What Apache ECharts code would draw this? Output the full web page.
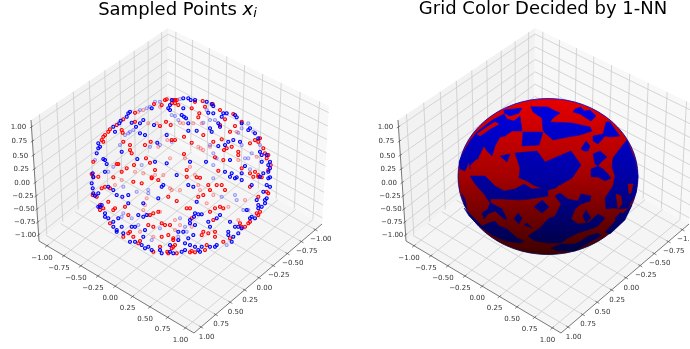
<!DOCTYPE html>
<html><head><meta charset="utf-8">
<script src="https://cdn.jsdelivr.net/npm/echarts@6/dist/echarts.min.js"></script>
<style>html,body{margin:0;padding:0;background:#fff}#c{width:690px;height:349px;filter:blur(0.4px)}</style>
</head><body><div id="c"></div>
<script>
const tickValues=[-1,-0.75,-0.5,-0.25,0,0.25,0.5,0.75,1];
const tickLabels=['−1.00','−0.75','−0.50','−0.25','0.00','0.25','0.50','0.75','1.00'];
const titles=['Sampled Points {m|x}{s|i}','Grid Color Decided by 1-NN'];
const panelOffsets=[0,367];
const boxCorners={back:[167,138],left:[39,241],front:[194,333],right:[322,224],backTop:[168,28],leftTop:[31,120],rightTop:[329,106]};
const sphereCentre=[548,176.5], sphereRadii=[90,78];

const blueStrong=[[92.7,173.3],[93.3,177.3],[98.3,148.3],[96.7,153.3],[103.3,159],[105,160],[106.7,164],[105,171.7],[115,131.7],[120.7,120.7],[128.3,113.3],[131.7,122.7],[143.3,120],[136,126.7],[140,123.3],[145,135],[140,133.3],[154,125],[155,161.7],[166.7,163.3],[157.3,142.7],[166.7,135],[137.3,159],[121.7,151.7],[130,111.7],[151.7,108.3],[168.3,108.3],[170,110],[170,105],
[183.3,98.3],[190.7,100],[195,100],[211.7,104],[213.3,106],[183.3,108.3],[184,116.7],[186,118.3],[188.3,123.3],[181.7,115],[208.3,112.7],[213.3,113.3],[223.3,113.3],[221.7,116.7],[235,115],[236.7,117.3],[218.3,123.3],[220,126.7],[210,128.3],[211.7,131.7],[196.7,130.7],[188.3,130.7],[241.7,123.3],[255,133.3],[248.3,130],[233.3,140],[240,141.7],[228.3,141.7],[218.3,146],[225,145],[260,151.7],[261.7,155],[266.7,155],[261.7,161.7],[268.3,165],[270,168.3],[190,161.7],[206,161.7],[230,160],[245,166],[236.7,177.3],[225,171.7],[231.7,173.3],[241.7,173.3],[270,177.3],[263.3,173.3],[176.7,175],
[92.7,188.3],[93.3,193.3],[95,195.7],[101.7,205],[105,213.3],[108.3,218.3],[113.3,221.7],[118.3,218.3],[113.3,226.7],[116.7,230],[121.7,226.7],[123.3,233.3],[131.7,226.7],[135,226.7],[138.3,215],[143.3,216.7],[143.3,203.3],[128.3,195],[128.3,203.3],[122.3,196.7],[116.7,195],[113.3,190],[108.3,186.7],[163.3,185],[161.7,186.7],[158.3,198.3],[145,230],[143.3,236.7],[135,241.7],[141.7,245],[148.3,246.7],[151.7,250],[160,250],[170,245],[170,251.7],[178.3,231.7],[178.3,240],[98.3,193.3],[100,206.7],[146.7,215],
[188.3,185],[193.3,186.7],[196.7,201.7],[195,213.3],[198.3,214.3],[201.7,214.3],[194,216.7],[190,220],[190,223.3],[195,225],[208.3,221.7],[210,226.7],[216.7,218.3],[220,215],[230,221.7],[235,226.7],[241.7,228.3],[256.7,200],[258.3,205],[265,200],[266.7,198.3],[258.3,208.3],[266.7,185],[263.3,191.7],[251.7,185],[255,218.3],[251.7,216.7],[238.3,226.7],[228.3,231.7],[233.3,236.7],[228.3,235],[183.3,231.7],[188.3,238.3],[193.3,235],[185,243.3],[190,245],[195,246.7],[201.7,246.7],[210,246.7],[215,246.7],[173.3,253.3],[181.7,251.7],[200,251.7],[230,176.7],[235,178.3],[241.7,180],[260,176.7],[268.3,178.3],[231.7,241.7],[246.7,210]];
const blueRim=[[98.3,143.3],[100,146.7],[113.3,126.7],[119.3,123.3],[126.7,116.7],[171.7,100],[188.3,98.3],[206.7,101.7],[226.7,113.3],[250,128.3],[258.3,138.3],[270,161.7],[268.3,171.7],[91.7,183.3],[98.3,206.7],[105,216.7],[116.7,231.7],[130,241.7],[145,248.3],[161.7,253.3],[185,250],[198.3,250],[216.7,245],[238.3,233.3],[250,218.3],[261.7,206.7],[265,203.3],[270,186.7]];
const redStrong=[[93.3,161.7],[91.7,174],[103.3,141.7],[108.3,131.7],[116.7,125],[121.7,130],[122.7,132.7],[103.3,136.7],[123.3,141.7],[130,145],[130,150],[131.7,153.3],[145,145],[150.7,141.7],[160,126],[166,121.7],[170.7,125],[146,158.3],[150,162.7],[134,165],[126.7,168.3],[121.7,171.7],[116.7,164],[118.3,164],[135,121.7],[161.7,105],[165,100],[173.3,100],[155,170],[151.7,177.3],[171.7,140],[113.3,177.3],
[171.7,103.3],[175,103.3],[178.3,105],[195,101.7],[202.7,101],[212.7,104],[199.3,113.3],[198.3,117.3],[205,106.7],[191.7,108.3],[220,125],[225,119.3],[230,131.7],[235,126],[184,136.7],[191.7,142.7],[184,154],[175,140],[213.3,141.7],[221.7,139.3],[231.7,146.7],[226.7,148.3],[224,150],[238.3,151.7],[238.3,155],[250,143.3],[255,140],[258.3,141.7],[260,138.3],[265,153.3],[266.7,158.3],[255,171.7],[258.3,175],[261.7,177.3],[268.3,170],[186.7,170],[196.7,177.3],[215,157.3],[223.3,160],[218.3,170.7],[203.3,135],[250,173.3],[241.7,168.3],
[93.3,176.7],[98.3,176.7],[101.7,188.3],[105,186.7],[96.7,196.7],[100,205],[103.3,208.3],[108.3,201.7],[113.3,210],[115,208.3],[125,206.7],[148.3,225],[153.3,226.7],[150,215],[133.3,181.7],[141.7,183.3],[151.7,178.3],[158.3,180],[168.3,196.7],[161.7,223.3],[165,225],[170,225],[168.3,235],[161.7,236.7],[173.3,238.3],[130,231.7],[128.3,233.3],[133.3,236.7],[140,241],[173.3,246.7],[167.3,251.7],[160,246.7],[128.3,215],[158.3,211.7],[153.3,213.3],[110,188.3],
[200,177.7],[208.3,185],[216.7,185],[221.7,185],[225,190],[198.3,196.7],[203.3,195],[210,190],[176.7,201],[186.7,208.3],[190,208.3],[215,208.3],[220,206.7],[223.3,208.3],[210,211.7],[213.3,220],[203.3,231.7],[201.7,235],[191.7,218.3],[173.3,240],[175,245],[191.7,251],[195,252.3],[206.7,245],[215,231.7],[240,223.3],[241.7,226.7],[248.3,223.3],[250,221.7],[258.3,215],[260,211.7],[250,186.7],[258.3,196.7],[266.7,191.7],[258.3,176.7],[208.3,233.3],[215,236.7],[186.7,176.7],[253.3,176.7]];
const redRim=[[101.7,140],[105,135],[110,129.3],[123.3,119.3],[135,112.7],[154,104],[166.7,99.3],[175,100],[176.7,100],[220,110],[233.3,114],[241.7,121.7],[263.3,148.3],[268.3,155],[270.7,165],[92.7,195],[100,210],[110,223.3],[123.3,236.7],[138.3,243.3],[153.3,251.7],[168.3,253.3],[171.7,248.3],[176.7,253.3],[190,252.3],[205,250],[223.3,241.7],[230,238.3],[245,226.7],[256.7,213.3],[268.3,193.3]];
const blueFaint=[[155,101.7],[150,106.7],[140,110],[125,135],[128.3,133.3],[130,131.7],[133.3,130],[120,145],[108.3,171.7],[113.3,166.7],[160,145],[171.7,141.7],[95,160],[141.7,165],[150,146.7],[146.7,108.3],[160,101.7],
[171.7,115],[175,116],[178.3,120],[206.7,110],[210,120],[215,120],[203.3,122.7],[241.7,128.3],[248.3,123.3],[238.3,132.7],[241.7,145],[213.3,153.3],[213.3,165],[245,158.3],[248.3,158.3],[251.7,153.3],[180,99],[210,145],[216.7,158.3],[253.3,131.7],[260,145],[250,169.3],
[123.3,186.7],[136.7,191.7],[148.3,190],[148.3,193.3],[123.3,213.3],[138.3,225],[121.7,216.7],[151.7,240],[131.7,218.3],[160,228.3],
[235,195],[236.7,200],[221.7,196.7],[248.3,210],[243.3,210],[185,226.7],[186.7,231.7],[180,218.3],[226.7,245],[213.3,178.3],[178.3,236.7]];
const redFaint=[[138.3,111.7],[143.3,110],[160,106.7],[167.3,140],[155,175],[156.7,123.3],[148.3,123.3],[135,171.7],[143.3,173.3],[163.3,175],[170,158.3],[158.3,146.7],
[180,122.7],[183.3,123.3],[193.3,123.3],[201.7,123.3],[198.3,146.7],[200.7,148.3],[203.3,150],[171.7,140],[185,158.3],[190,166.7],[195,175],[210,146.7],[236.7,131.7],[238.3,160],[256.7,156.7],
[115,185],[146.7,198.3],[143.3,210],[121.7,180],[148.3,215],[160,211.7],[153.3,236.7],[145,205],[175,230],[140,231.7],[171.7,190],
[170,188.3],[180,190],[198.3,185],[200,190],[175,220],[180,225],[191.7,226.7],[228.3,206.7],[238.3,220],[245,200],[206.7,203.3],[178.3,240],[213.3,195]];

const bluePatches=[
[[530.7,106.7],[548,107],[553,110],[560,113],[553,118],[550,122],[572,123],[590,127],[592,131],[580,135],[568,137],[553,140],[545,133],[543,130],[542,118],[533,112]],
[[575,109],[581,107],[584,111],[590,110],[596,116],[591,121],[586,118],[580,114],[573,112]],
[[606,122],[610,122],[616,131],[620,136],[611,137],[605,136],[598,144],[593,141],[593,136],[603,134]],
[[613,158],[622,146],[627,140],[635,160],[638,176],[636,193],[628,208],[620,209],[613,208],[606,209],[605,198],[613,186],[615,176],[612,167]],
[[581,149],[586,141],[590,146],[588,151],[584,151]],
[[593,154],[600,151],[607,157],[601,162],[598,166],[595,164]],
[[591,169],[598,166],[603,169],[608,174],[611,178],[605,181],[598,177],[591,177]],
[[515,153],[537,151],[545,162],[571,151],[581,165],[572,178],[560,185],[553,183],[548,190],[535,186],[525,180],[519,178],[520,168]],
[[470,176],[485,176],[495,186],[504,191],[515,189],[524,184],[532,189],[548,188],[548,196],[530,199],[519,200],[502,199],[490,199],[491,203],[502,209],[507,219],[504,219],[495,211],[488,214],[484,219],[482,213],[488,209],[490,203],[484,194],[475,184]],
[[459,162],[464,151],[470,141],[477,132],[487,124],[494,119],[504,114],[507,119],[514,121],[520,116],[522,131],[512,131],[505,136],[500,137],[495,146],[492,156],[487,151],[484,146],[479,156],[477,162],[470,169],[469,162],[465,171],[460,169]],
[[504,110],[522,108],[519,113],[510,116],[504,113]],
[[523,132],[543,132],[539,145],[522,146]],
[[500,156],[510,154],[507,162]],
[[462,194],[465,199],[467,209],[464,204]],
[[464,208],[474,218],[482,226],[489,223],[495,221],[499,226],[507,229],[517,238],[524,241],[520,243],[505,241],[492,235],[479,226],[469,216]],
[[534,207],[542,200],[549,207],[542,213]],
[[514,219],[518,213],[522,218],[519,224]],
[[524,225],[527,223],[532,228],[527,226]],
[[548,219],[555,216],[561,204],[555,196],[560,193],[568,199],[578,201],[581,194],[591,196],[590,201],[581,204],[575,209],[571,219],[578,224],[588,223],[598,214],[605,218],[598,226],[591,229],[578,233],[568,238],[561,243],[548,243],[535,241],[528,236],[540,228]],
[[583,216],[586,210],[591,218],[586,223]],
[[615,218],[621,212],[623,218],[616,221]],
[[551,248],[561,244],[575,244],[581,241],[588,236],[598,233],[601,236],[588,243],[575,251],[558,251]],
[[548,183],[563,176],[565,179],[556,188],[548,190]],
[[632,205],[625,220],[610,234],[605,232],[620,216]]];
const redPatches=[
[[616,194],[621,196],[622,204],[618,209]],
[[628,184],[633,184],[631,193],[629,194]],
[[477,134],[487,127],[495,122],[499,124],[490,129],[480,136]],
[[470,166],[477,159],[479,162],[472,169]]];

function quad(p0,p1,p2,p3){
  const dx1=p1[0]-p2[0],dx2=p3[0]-p2[0],sx=p0[0]-p1[0]+p2[0]-p3[0];
  const dy1=p1[1]-p2[1],dy2=p3[1]-p2[1],sy=p0[1]-p1[1]+p2[1]-p3[1];
  const den=dx1*dy2-dx2*dy1,g=(sx*dy2-dx2*sy)/den,h=(dx1*sy-sx*dy1)/den;
  const a=p1[0]-p0[0]+g*p1[0],b=p3[0]-p0[0]+h*p3[0],d=p1[1]-p0[1]+g*p1[1],e=p3[1]-p0[1]+h*p3[1];
  return (u,v)=>{const w=g*u+h*v+1;return [(a*u+b*v+p0[0])/w,(d*u+e*v+p0[1])/w];};
}
const LIM=1.12, frac=t=>(t+LIM)/(2*LIM);
const C=boxCorners;
const floorMap=quad(C.back,C.left,C.front,C.right);
const leftWall=quad(C.back,C.left,C.leftTop,C.backTop);
const rightWall=quad(C.back,C.right,C.rightTop,C.backTop);

const panes=[],grid=[],axisLines=[],tickMarks=[],labels=[];
function seg(list,a,b,dx){list.push([a[0]+dx,a[1],b[0]+dx,b[1]]);}
function mark(p,q,dx,before,after){
  const l=Math.hypot(q[0]-p[0],q[1]-p[1]),ux=(q[0]-p[0])/l,uy=(q[1]-p[1])/l;
  seg(tickMarks,[p[0]-ux*after,p[1]-uy*after],[p[0]+ux*before,p[1]+uy*before],dx);
}
panelOffsets.forEach(dx=>{
  const sh=a=>a.map(p=>[p[0]+dx,p[1]]);
  panes.push({pts:sh([C.back,C.left,C.leftTop,C.backTop]),fill:'#f2f2f2'});
  panes.push({pts:sh([C.back,C.right,C.rightTop,C.backTop]),fill:'#f8f8f8'});
  panes.push({pts:sh([C.back,C.left,C.front,C.right]),fill:'#f5f5f5'});
  tickValues.forEach((t,i)=>{
    const f=frac(t);
    seg(grid,floorMap(f,0),floorMap(f,1),dx);
    seg(grid,floorMap(0,f),floorMap(1,f),dx);
    seg(grid,leftWall(f,0),leftWall(f,1),dx);
    seg(grid,leftWall(0,f),leftWall(1,f),dx);
    seg(grid,rightWall(f,0),rightWall(f,1),dx);
    seg(grid,rightWall(0,f),rightWall(1,f),dx);
    const a=floorMap(1,f); mark(a,floorMap(0,f),dx,2,2.5);
    labels.push({t:tickLabels[i],x:a[0]+dx-5,y:a[1]+12});
    const b=floorMap(f,1); mark(b,floorMap(f,0),dx,2,2.5);
    labels.push({t:tickLabels[i],x:b[0]+dx+5.5,y:b[1]+10});
    const c=leftWall(1,f); mark(c,leftWall(0,f),dx,2,2);
    labels.push({t:tickLabels[i],x:c[0]+dx-13,y:c[1]+0.5});
  });
  seg(axisLines,C.left,C.front,dx);
  seg(axisLines,C.right,C.front,dx);
  seg(axisLines,C.left,C.leftTop,dx);
});

const gradient=(a,b,c)=>({type:'linear',global:true,x:0,y:98,x2:0,y2:255,colorStops:[{offset:0,color:a},{offset:.5,color:b},{offset:1,color:c}]});
const redFill=gradient('#e60000','#a50000','#3c0000');
const blueFill=gradient('#0000e6','#0000a5','#00003c');

const segSeries=(data,color,width)=>({type:'custom',silent:true,clip:false,animation:false,data,
  renderItem:(p,api)=>{const a=api.coord([api.value(0),api.value(1)]),b=api.coord([api.value(2),api.value(3)]);
    return {type:'line',shape:{x1:a[0],y1:a[1],x2:b[0],y2:b[1]},style:{stroke:color,lineWidth:width}};}});
const polySeries=(list,fill,stroke)=>({type:'custom',silent:true,clip:false,animation:false,data:list.map((_,i)=>[i]),
  renderItem:(p,api)=>({type:'polygon',shape:{points:list[p.dataIndex].map(q=>api.coord(q))},style:{fill,stroke:stroke||fill,lineWidth:.5}})});
const dotSeries=(data,c,fill,op)=>({type:'scatter',silent:true,animation:false,data,symbolSize:3,
  itemStyle:{color:fill,borderColor:c,borderWidth:1.1,opacity:op}});

const option={
  animation:false,
  title:[
    {text:titles[0],left:177.5,top:0,padding:0,textAlign:'center',textStyle:{fontFamily:'DejaVu Sans',fontSize:18,fontWeight:'normal',color:'#000',
      rich:{m:{fontFamily:'DejaVu Sans',fontStyle:'italic',fontSize:18,color:'#000'},s:{fontFamily:'DejaVu Sans',fontStyle:'italic',fontSize:13,color:'#000',padding:[7,0,0,0]}}}},
    {text:titles[1],left:543,top:0,padding:0,textAlign:'center',textStyle:{fontFamily:'DejaVu Sans',fontSize:18,fontWeight:'normal',color:'#000'}}
  ],
  grid:{left:0,right:0,top:0,bottom:0},
  xAxis:{type:'value',min:0,max:690,show:false},
  yAxis:{type:'value',min:0,max:349,inverse:true,show:false},
  series:[
    {type:'custom',silent:true,clip:false,animation:false,data:panes.map((_,i)=>[i]),
      renderItem:(p,api)=>({type:'polygon',shape:{points:panes[p.dataIndex].pts.map(q=>api.coord(q))},style:{fill:panes[p.dataIndex].fill}})},
    segSeries(grid,'#cccccc',0.8),
    segSeries(axisLines,'#555555',0.8),
    segSeries(tickMarks,'#555555',0.7),
    {type:'custom',silent:true,clip:false,animation:false,data:labels.map((_,i)=>[i]),
      renderItem:(p,api)=>{const l=labels[p.dataIndex],c=api.coord([l.x,l.y]);
        return {type:'text',style:{text:l.t,x:c[0],y:c[1],fill:'#333',font:'7px "DejaVu Sans"',align:'center',verticalAlign:'middle'}};}},
    dotSeries(redFaint,'#ff0000','rgba(255,0,0,.25)',0.35),
    dotSeries(blueFaint,'#0000ff','rgba(0,0,255,.25)',0.35),
    dotSeries(redStrong.concat(redRim),'#ff0000','rgba(255,0,0,.2)',1),
    dotSeries(blueStrong.concat(blueRim),'#0000ff','rgba(0,0,255,.2)',1),
    {type:'custom',silent:true,clip:false,animation:false,data:[[sphereCentre[0],sphereCentre[1]]],
      renderItem:(p,api)=>{const c=api.coord([api.value(0),api.value(1)]);
        return {type:'ellipse',shape:{cx:c[0],cy:c[1],rx:sphereRadii[0],ry:sphereRadii[1]},style:{fill:redFill,stroke:blueFill,lineWidth:.8}};}},
    polySeries(bluePatches,blueFill),
    polySeries(redPatches,redFill)
  ]
};
echarts.init(document.getElementById('c'),null,{renderer:'canvas'}).setOption(option);
</script></body></html>
